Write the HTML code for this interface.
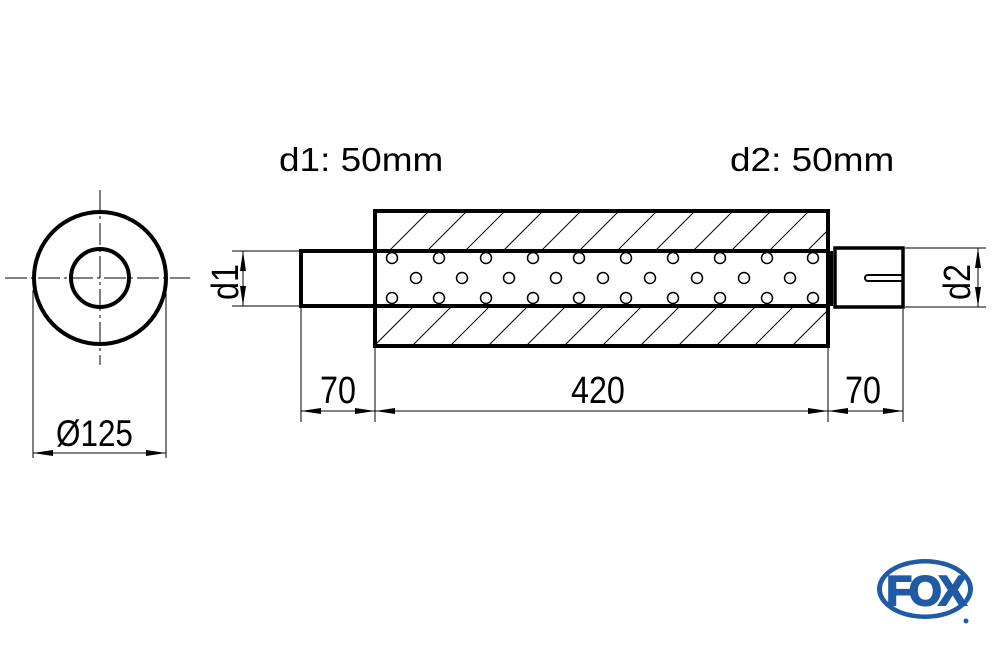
<!DOCTYPE html>
<html><head><meta charset="utf-8"><style>html,body{margin:0;padding:0;background:#fff;}svg{display:block;}</style></head>
<body>
<svg width="1000" height="645" viewBox="0 0 1000 645" xmlns="http://www.w3.org/2000/svg" font-family="Liberation Sans, sans-serif">
<defs>
<clipPath id="ht"><rect x="377" y="213" width="449" height="37"/></clipPath>
<clipPath id="hb"><rect x="377" y="307" width="449" height="37"/></clipPath>
<marker id="a" viewBox="0 0 20 6" refX="20" refY="3" markerWidth="20" markerHeight="6" orient="auto-start-reverse" markerUnits="userSpaceOnUse"><path d="M0,0 L20,3 L0,6 z" fill="#000"/></marker>
</defs>
<circle cx="100" cy="278" r="66" fill="none" stroke="#000" stroke-width="4"/>
<circle cx="100" cy="278" r="29" fill="none" stroke="#000" stroke-width="4"/>
<line x1="5" y1="278" x2="190" y2="278" stroke="#000" stroke-width="1" stroke-dasharray="22,4,3,4"/>
<line x1="100" y1="190" x2="100" y2="365" stroke="#000" stroke-width="1" stroke-dasharray="22,4,3,4"/>
<line x1="33" y1="290" x2="33" y2="458" stroke="#000" stroke-width="1"/>
<line x1="166" y1="290" x2="166" y2="458" stroke="#000" stroke-width="1"/>
<line x1="33" y1="453" x2="166" y2="453" stroke="#000" stroke-width="1" marker-start="url(#a)" marker-end="url(#a)"/>
<text x="56" y="446" font-size="37" transform="translate(56,0) scale(0.85,1) translate(-56,0)">Ø125</text>
<text x="279" y="171" font-size="33" transform="translate(279,0) scale(1.12,1) translate(-279,0)">d1: 50mm</text>
<text x="730" y="171" font-size="33" transform="translate(730,0) scale(1.12,1) translate(-730,0)">d2: 50mm</text>
<g stroke="#000" stroke-width="1" clip-path="url(#ht)">
<path d="M340,300 l100,-100 M378,300 l100,-100 M416,300 l100,-100 M454,300 l100,-100 M492,300 l100,-100 M530,300 l100,-100 M568,300 l100,-100 M606,300 l100,-100 M644,300 l100,-100 M682,300 l100,-100 M720,300 l100,-100 M758,300 l100,-100 M796,300 l100,-100"/>
</g>
<g stroke="#000" stroke-width="1" clip-path="url(#hb)">
<path d="M320,400 l100,-100 M358,400 l100,-100 M396,400 l100,-100 M434,400 l100,-100 M472,400 l100,-100 M510,400 l100,-100 M548,400 l100,-100 M586,400 l100,-100 M624,400 l100,-100 M662,400 l100,-100 M700,400 l100,-100 M738,400 l100,-100 M776,400 l100,-100 M814,400 l100,-100"/>
</g>
<rect x="375" y="211" width="453" height="135" fill="none" stroke="#000" stroke-width="4"/>
<line x1="301" y1="251" x2="828" y2="251" stroke="#000" stroke-width="4"/>
<line x1="301" y1="306" x2="828" y2="306" stroke="#000" stroke-width="4"/>
<line x1="301" y1="249" x2="301" y2="308" stroke="#000" stroke-width="4"/>
<g fill="#fff" stroke="#000" stroke-width="1.5">
<circle cx="392" cy="258" r="5.5"/><circle cx="439" cy="258" r="5.5"/><circle cx="486" cy="258" r="5.5"/><circle cx="533" cy="258" r="5.5"/><circle cx="579" cy="258" r="5.5"/><circle cx="626" cy="258" r="5.5"/><circle cx="673" cy="258" r="5.5"/><circle cx="720" cy="258" r="5.5"/><circle cx="767" cy="258" r="5.5"/><circle cx="813" cy="258" r="5.5"/>
<circle cx="392" cy="298" r="5.5"/><circle cx="439" cy="298" r="5.5"/><circle cx="486" cy="298" r="5.5"/><circle cx="533" cy="298" r="5.5"/><circle cx="579" cy="298" r="5.5"/><circle cx="626" cy="298" r="5.5"/><circle cx="673" cy="298" r="5.5"/><circle cx="720" cy="298" r="5.5"/><circle cx="767" cy="298" r="5.5"/><circle cx="813" cy="298" r="5.5"/>
<circle cx="416" cy="278" r="5.5"/><circle cx="462" cy="278" r="5.5"/><circle cx="509" cy="278" r="5.5"/><circle cx="556" cy="278" r="5.5"/><circle cx="603" cy="278" r="5.5"/><circle cx="650" cy="278" r="5.5"/><circle cx="697" cy="278" r="5.5"/><circle cx="744" cy="278" r="5.5"/><circle cx="790" cy="278" r="5.5"/>
</g>
<rect x="829" y="251" width="4" height="55" fill="#000"/>
<rect x="835" y="248" width="68" height="59" fill="none" stroke="#000" stroke-width="3.5"/>
<path d="M903,275 L868,275 A3,3 0 0 0 868,281 L903,281" fill="none" stroke="#000" stroke-width="2"/>
<g stroke="#000" stroke-width="1">
<line x1="301" y1="308" x2="301" y2="422"/>
<line x1="375" y1="348" x2="375" y2="422"/>
<line x1="828" y1="348" x2="828" y2="422"/>
<line x1="903" y1="309" x2="903" y2="422"/>
<line x1="301" y1="411" x2="375" y2="411" marker-start="url(#a)" marker-end="url(#a)"/>
<line x1="375" y1="411" x2="828" y2="411" marker-start="url(#a)" marker-end="url(#a)"/>
<line x1="828" y1="411" x2="903" y2="411" marker-start="url(#a)" marker-end="url(#a)"/>
<line x1="232" y1="251" x2="300" y2="251"/>
<line x1="232" y1="306" x2="300" y2="306"/>
<line x1="243" y1="251" x2="243" y2="306" marker-start="url(#a)" marker-end="url(#a)"/>
<line x1="905" y1="248" x2="986" y2="248"/>
<line x1="905" y1="307" x2="986" y2="307"/>
<line x1="978" y1="248" x2="978" y2="307" marker-start="url(#a)" marker-end="url(#a)"/>
</g>
<g font-size="38">
<text x="320" y="403" transform="translate(320,0) scale(0.85,1) translate(-320,0)">70</text>
<text x="571" y="403" transform="translate(571,0) scale(0.85,1) translate(-571,0)">420</text>
<text x="845" y="403" transform="translate(845,0) scale(0.85,1) translate(-845,0)">70</text>
<text transform="translate(238,300) rotate(-90) scale(0.85,1)">d1</text>
<text transform="translate(970,300) rotate(-90) scale(0.85,1)">d2</text>
</g>
<ellipse cx="925" cy="589" rx="48" ry="30" fill="#1f5aa6"/>
<ellipse cx="925" cy="589" rx="43" ry="25.5" fill="#fff"/>
<text x="925" y="605" font-size="42" font-weight="bold" fill="#1f5aa6" stroke="#1f5aa6" stroke-width="2" text-anchor="middle" letter-spacing="-3">FOX</text>
<circle cx="966" cy="621" r="2.5" fill="#1f5aa6"/>
</svg>
</body></html>
